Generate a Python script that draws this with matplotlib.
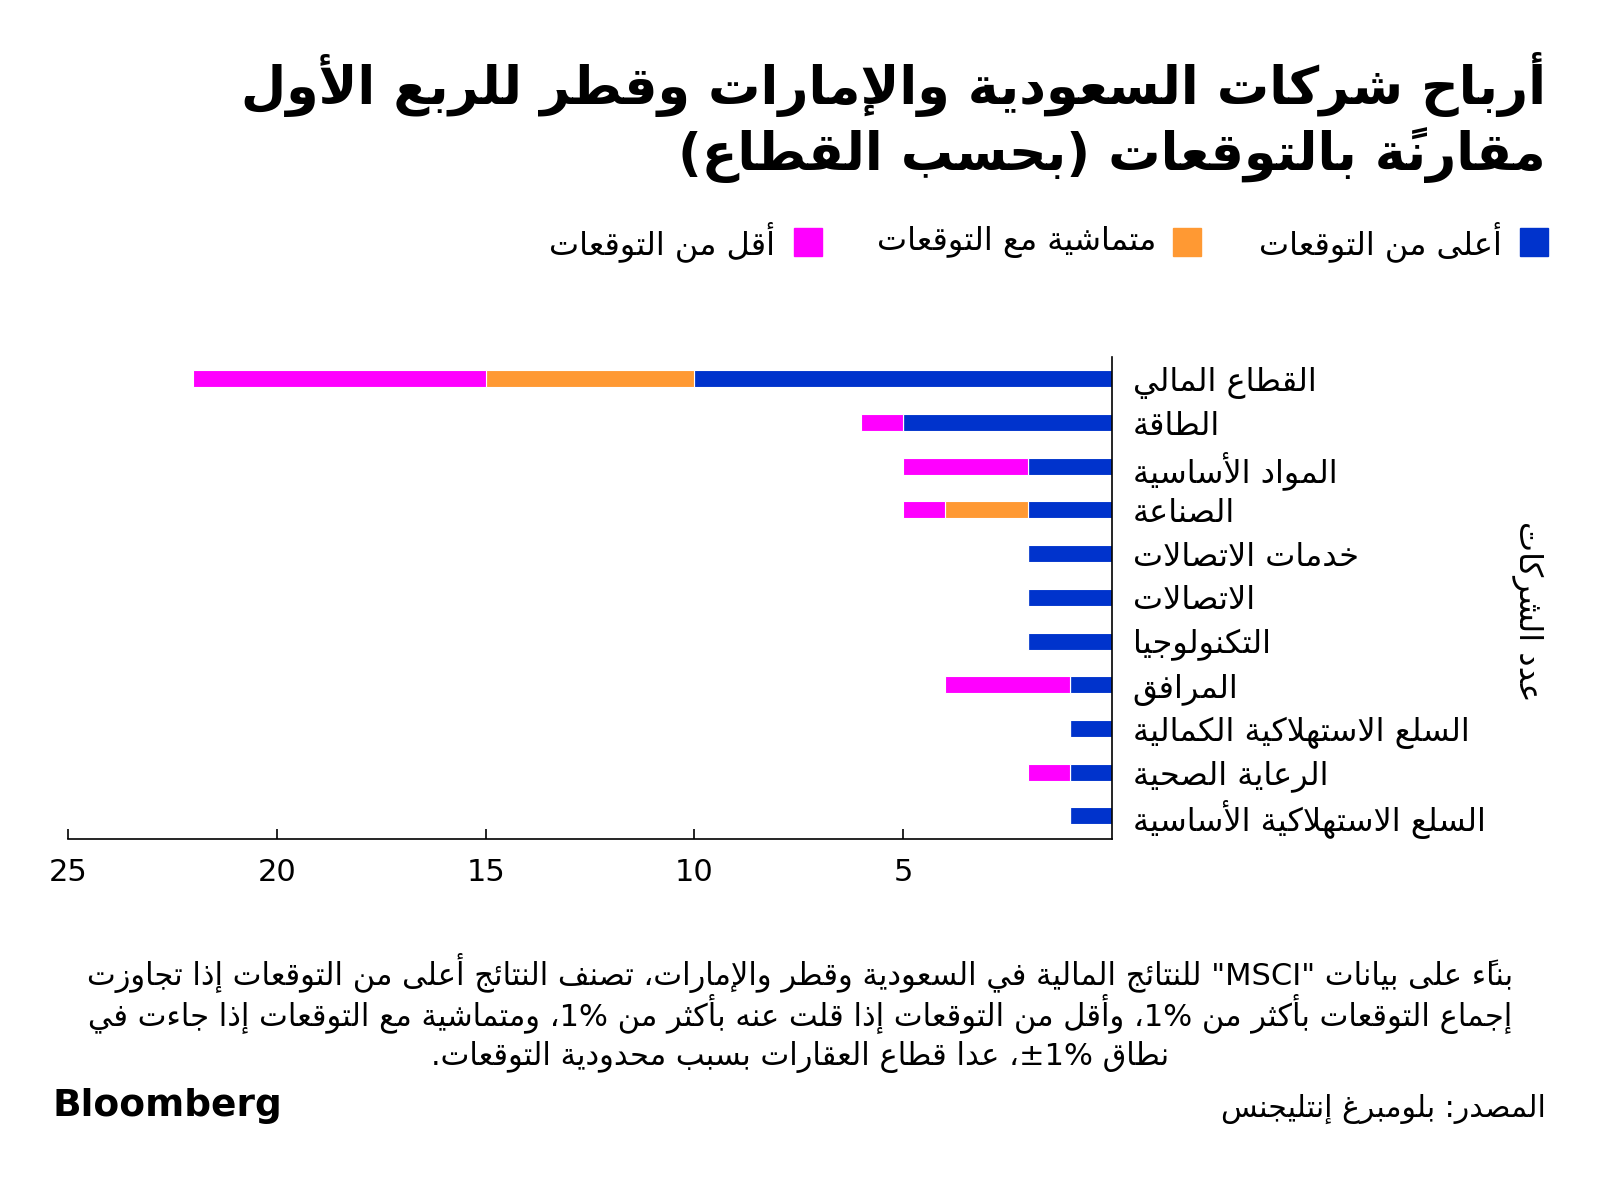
import re
import unicodedata as ud

import matplotlib

matplotlib.use("Agg")
import matplotlib.pyplot as plt
import numpy as np
from matplotlib.patches import Rectangle

# ---- data -------------------------------------------------------------
sectors = [
    "القطاع المالي",
    "الطاقة",
    "المواد الأساسية",
    "الصناعة",
    "خدمات الاتصالات",
    "الاتصالات",
    "التكنولوجيا",
    "المرافق",
    "السلع الاستهلاكية الكمالية",
    "الرعاية الصحية",
    "السلع الاستهلاكية الأساسية",
]
above = [10, 5, 2, 2, 2, 2, 2, 1, 1, 1, 1]
inline = [5, 0, 0, 2, 0, 0, 0, 0, 0, 0, 0]
below = [7, 1, 3, 1, 0, 0, 0, 3, 0, 1, 0]
xticks = [25, 20, 15, 10, 5]

series_names = ["أعلى من التوقعات", "متماشية مع التوقعات", "أقل من التوقعات"]
title_lines = [
    "أرباح شركات السعودية والإمارات وقطر للربع الأول",
    "مقارنةً بالتوقعات (بحسب القطاع)",
]
note_lines = [
    'بناءً على بيانات "MSCI" للنتائج المالية في السعودية وقطر والإمارات، تصنف النتائج أعلى من التوقعات إذا تجاوزت',
    "إجماع التوقعات بأكثر من 1%، وأقل من التوقعات إذا قلت عنه بأكثر من 1%، ومتماشية مع التوقعات إذا جاءت في",
    "نطاق ±1%، عدا قطاع العقارات بسبب محدودية التوقعات.",
]
source = "المصدر: بلومبرغ إنتليجنس"
ylabel = "عدد الشركات"

BLUE = "#0033cc"
ORANGE = "#ff9933"
MAGENTA = "#ff00ff"
colors = [BLUE, ORANGE, MAGENTA]

# ---- minimal arabic shaping + rtl ordering ------------------------------
ALEFS = "\u0627\u0623\u0625\u0622"
MIRROR = {"(": ")", ")": "(", "[": "]", "]": "["}
LTR_RUN = re.compile(r"±?[A-Za-z0-9]+%?")


def _build_forms():
    forms = {}
    for cp in list(range(0xFE70, 0xFF00)) + list(range(0xFB50, 0xFE00)):
        d = ud.decomposition(chr(cp))
        if not d.startswith("<"):
            continue
        tag, *codes = d.split()
        tag = tag.strip("<>")
        if tag not in ("isolated", "final", "initial", "medial"):
            continue
        key = "".join(chr(int(c, 16)) for c in codes)
        if len(key) == 1 or (len(key) == 2 and key[0] == "\u0644" and key[1] in ALEFS):
            forms.setdefault(key, {}).setdefault(tag, chr(cp))
    return forms


FORMS = _build_forms()


def _is_mark(c):
    return ud.category(c) == "Mn"


def _shape(text):
    chars = list(text)
    n = len(chars)

    def neighbor(i, step):
        j = i + step
        while 0 <= j < n and _is_mark(chars[j]):
            j += step
        return (chars[j] if 0 <= j < n else None), j

    out = []
    i = 0
    while i < n:
        c = chars[i]
        if c not in FORMS:
            out.append(c)
            i += 1
            continue
        p, _ = neighbor(i, -1)
        nx, j = neighbor(i, 1)
        join_prev = p in FORMS and "initial" in FORMS[p] and "final" in FORMS[c]
        if c == "\u0644" and nx is not None and nx in ALEFS:
            lig = FORMS[c + nx]
            out.append(lig["final"] if join_prev else lig["isolated"])
            out.extend(chars[i + 1:j])
            i = j + 1
            continue
        join_next = nx in FORMS and "final" in FORMS[nx] and "initial" in FORMS[c]
        if join_prev and join_next:
            form = "medial"
        elif join_prev:
            form = "final"
        elif join_next:
            form = "initial"
        else:
            form = "isolated"
        out.append(FORMS[c].get(form, FORMS[c].get("isolated", c)))
        i += 1
    return "".join(out)


def _clusters(seg):
    res = []
    for ch in seg:
        if res and _is_mark(ch):
            res[-1] += ch
        else:
            res.append(MIRROR.get(ch, ch))
    return res


def ar(text):
    s = _shape(text)
    units = []
    pos = 0
    for m in LTR_RUN.finditer(s):
        units.extend(_clusters(s[pos:m.start()]))
        units.append(m.group())
        pos = m.end()
    units.extend(_clusters(s[pos:]))
    return "".join(reversed(units))


# ---- figure -------------------------------------------------------------
W, H = 1600, 1191
plt.rcParams["font.family"] = ["DejaVu Sans"]
fig = plt.figure(figsize=(W / 100, H / 100), dpi=100)


def fx(px):
    return px / W


def fy(py):
    return 1 - py / H


ax = fig.add_axes([fx(68), fy(839), fx(1112 - 68), (839 - 357) / H])
y = np.arange(len(sectors))
a = np.array(above)
b = np.array(inline)
c = np.array(below)
for vals, lefts, col in [(a, 0, BLUE), (b, a, ORANGE), (c, a + b, MAGENTA)]:
    ax.barh(y, vals, left=lefts, height=0.39, color=col, edgecolor="white", linewidth=0.8)

ax.set_xlim(25, 0)
ax.set_ylim(10.53, -0.5)
for side in ("top", "left"):
    ax.spines[side].set_visible(False)
for side in ("bottom", "right"):
    ax.spines[side].set_linewidth(1.2)
ax.set_xticks(xticks)
ax.set_xticklabels([str(t) for t in xticks], fontsize=22)
ax.tick_params(axis="x", direction="in", length=7, width=1.2, pad=14)
ax.set_yticks(y)
ax.set_yticklabels([ar(s) for s in sectors], fontsize=23)
ax.yaxis.tick_right()
ax.tick_params(axis="y", length=0, pad=15)
for lbl in ax.get_yticklabels():
    lbl.set_horizontalalignment("left")

fig.text(fx(1527), fy(611), ar(ylabel), rotation=270, ha="center", va="center", fontsize=23)

# title
fig.text(fx(1546), fy(104), ar(title_lines[0]), ha="right", va="baseline",
         fontsize=37.5, fontweight="bold")
fig.text(fx(1546), fy(170), ar(title_lines[1]), ha="right", va="baseline",
         fontsize=37.5, fontweight="bold")

# legend
legend_sq = [1520, 1173, 794]
legend_tx = [1502, 1156, 775]
for sq, tx, name, col in zip(legend_sq, legend_tx, series_names, colors):
    fig.patches.append(Rectangle((fx(sq), fy(256)), fx(28), 28 / H, color=col,
                                 transform=fig.transFigure))
    fig.text(fx(tx), fy(242), ar(name), ha="right", va="center", fontsize=23)

# footnote
for line, base in zip(note_lines, [985, 1026, 1065]):
    fig.text(0.5, fy(base), ar(line), ha="center", va="baseline", fontsize=22)

fig.text(fx(1546), fy(1117), ar(source), ha="right", va="baseline", fontsize=21.5)
fig.text(fx(52), fy(1116), "Bloomberg", ha="left", va="baseline", fontsize=27,
         fontweight="bold")

fig.savefig("out.png", dpi=100, facecolor="white")
